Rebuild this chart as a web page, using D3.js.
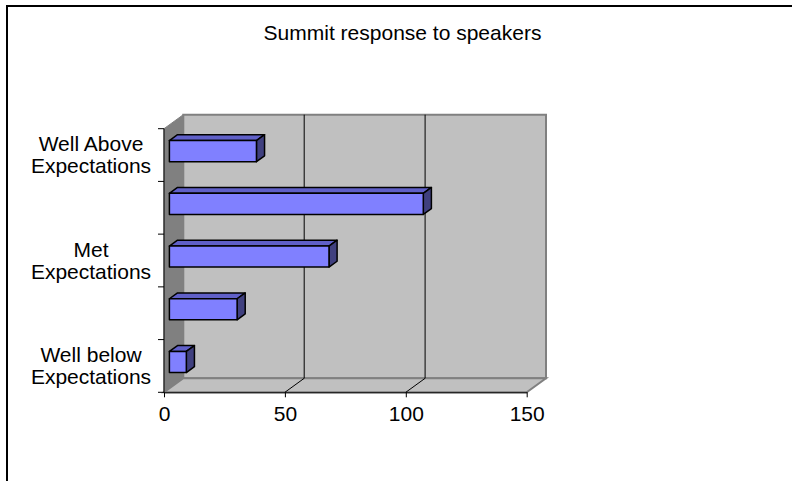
<!DOCTYPE html>
<html>
<head>
<meta charset="utf-8">
<script src="https://cdn.jsdelivr.net/npm/d3@7"></script>
<style>
  html, body { margin: 0; padding: 0; background: #fff; }
  svg { display: block; }
  text { font-family: "Liberation Sans", Arial, sans-serif; fill: #000; }
</style>
</head>
<body>
<svg id="chart" width="792" height="481"></svg>
<script>
// Survey responses, listed bottom to top on the category axis
const categories = [
  "Well below\nExpectations",
  "",
  "Met\nExpectations",
  "",
  "Well Above\nExpectations"
];
const responses = [7, 28, 66, 105, 36];
const xTicks = [0, 50, 100, 150];
const titleText = "Summit response to speakers";

const svg = d3.select("#chart");

// Chart frame
svg.append("rect")
  .attr("x", 7).attr("y", 6)
  .attr("width", 800).attr("height", 500)
  .attr("fill", "#fff").attr("stroke", "#000").attr("stroke-width", 2);

svg.append("text")
  .attr("x", 402.5).attr("y", 40)
  .attr("text-anchor", "middle")
  .style("font-size", "21px")
  .text(titleText);

// Plot geometry: front plane plus a receding depth offset
const plotL = 164, plotR = 526.7, plotT = 128.7, plotB = 392.3;
const DX = 19.3, DY = 14;
const proj = (px, py, f) => [px + f * DX, py - f * DY];

const x = d3.scaleLinear().domain([0, 150]).range([plotL, plotR]);
const y = d3.scaleBand()
  .domain(d3.range(categories.length))
  .range([plotB, plotT])
  .paddingInner(0.6)
  .paddingOuter(0.3);
const yOuter = d3.scaleBand()
  .domain(d3.range(categories.length))
  .range([plotB, plotT]);

const poly = pts => pts.map(p => p.join(",")).join(" ");
const g = svg.append("g");

// Back wall
g.append("polygon")
  .attr("points", poly([proj(plotL, plotT, 1), proj(plotR, plotT, 1), proj(plotR, plotB, 1), proj(plotL, plotB, 1)]))
  .attr("fill", "#c0c0c0").attr("stroke", "#808080").attr("stroke-width", 2);

// Side wall
g.append("polygon")
  .attr("points", poly([proj(plotL, plotT, 0), proj(plotL, plotT, 1), proj(plotL, plotB, 1), proj(plotL, plotB, 0)]))
  .attr("fill", "#808080").attr("stroke", "#808080").attr("stroke-width", 1);

// Floor
g.append("polygon")
  .attr("points", poly([proj(plotL, plotB, 0), proj(plotR, plotB, 0), proj(plotR, plotB, 1), proj(plotL, plotB, 1)]))
  .attr("fill", "#c0c0c0").attr("stroke", "#808080").attr("stroke-width", 2);

// Gridlines: across the floor and up the back wall
xTicks.filter(v => v > 0 && v < 150).forEach(v => {
  const a = proj(x(v), plotB, 0), b = proj(x(v), plotB, 1), c = proj(x(v), plotT, 1);
  g.append("polyline")
    .attr("points", poly([a, b, c]))
    .attr("fill", "none").attr("stroke", "#000").attr("stroke-width", 1);
});

// Bars as extruded boxes
const f0 = 0.28, f1 = 0.7;
const bars = g.selectAll("g.bar").data(responses).join("g").attr("class", "bar");
bars.each(function (v, i) {
  const sel = d3.select(this);
  const x0 = x(0), x1 = x(v);
  const yTop = y(i), yBot = y(i) + y.bandwidth();
  const A = proj(x0, yTop, f0), B = proj(x1, yTop, f0), C = proj(x1, yBot, f0), D = proj(x0, yBot, f0);
  const A1 = proj(x0, yTop, f1), B1 = proj(x1, yTop, f1), C1 = proj(x1, yBot, f1);
  const style = s => s.attr("stroke", "#000").attr("stroke-width", 1.5).attr("stroke-linejoin", "round");
  sel.append("polygon").attr("points", poly([A, B, B1, A1])).attr("fill", "#6060c8").call(style);
  sel.append("polygon").attr("points", poly([B, C, C1, B1])).attr("fill", "#40407f").call(style);
  sel.append("polygon").attr("points", poly([A, B, C, D])).attr("fill", "#8080ff").call(style);
});

// Axes
const xAxis = d3.axisBottom(x).tickValues(xTicks).tickSize(5).tickPadding(6).tickSizeOuter(0);
const xg = svg.append("g").attr("transform", `translate(0,${plotB})`).call(xAxis);
xg.select(".domain").attr("stroke", "#000");
xg.selectAll("text").style("font-size", "21px").attr("font-family", null).attr("dy", "0.85em");

const catTicks = d3.range(categories.length + 1).map(k => plotB - k * yOuter.step());
const yg = svg.append("g");
yg.append("line").attr("x1", plotL).attr("x2", plotL).attr("y1", plotT).attr("y2", plotB).attr("stroke", "#000");
yg.selectAll("line.tick").data(catTicks).join("line").attr("class", "tick")
  .attr("x1", plotL - 6).attr("x2", plotL).attr("y1", d => d).attr("y2", d => d)
  .attr("stroke", "#000");

// Category labels (two lines, centered on each band)
categories.forEach((label, i) => {
  if (!label) return;
  const c = yOuter(i) + yOuter.bandwidth() / 2;
  const t = svg.append("text").attr("text-anchor", "middle").style("font-size", "21px");
  label.split("\n").forEach((line, k) => {
    t.append("tspan").attr("x", 91).attr("y", c - 4 + k * 22).text(line);
  });
});
</script>
</body>
</html>
